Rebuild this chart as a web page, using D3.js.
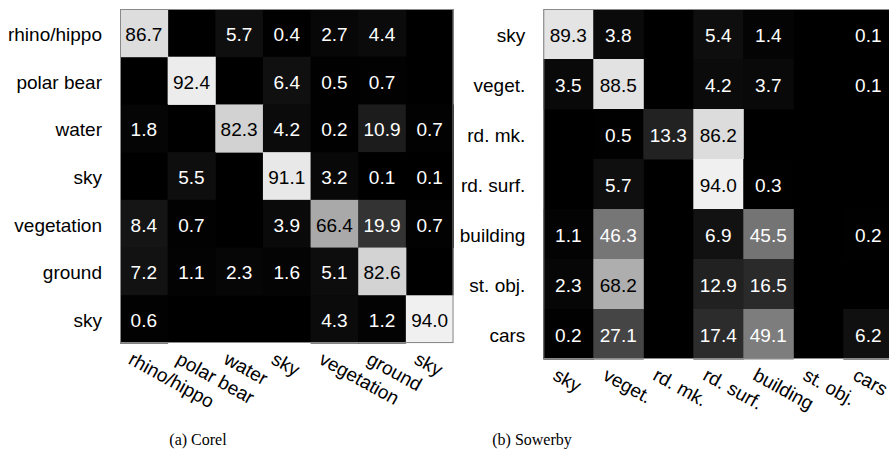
<!DOCTYPE html>
<html>
<head>
<meta charset="utf-8">
<script src="https://cdn.jsdelivr.net/npm/d3@7"></script>
<style>
  html, body { margin: 0; padding: 0; background: #fff; }
  svg { display: block; }
</style>
</head>
<body>
<svg id="chart" width="889" height="451"></svg>
<script>
// ---------- data ----------
const corelLabels = ["rhino/hippo", "polar bear", "water", "sky", "vegetation", "ground", "sky"];
const corelValues = [
  [86.7, null, 5.7, 0.4, 2.7, 4.4, null],
  [null, 92.4, null, 6.4, 0.5, 0.7, null],
  [1.8, null, 82.3, 4.2, 0.2, 10.9, 0.7],
  [null, 5.5, null, 91.1, 3.2, 0.1, 0.1],
  [8.4, 0.7, null, 3.9, 66.4, 19.9, 0.7],
  [7.2, 1.1, 2.3, 1.6, 5.1, 82.6, null],
  [0.6, null, null, null, 4.3, 1.2, 94.0]
];
const sowerbyLabels = ["sky", "veget.", "rd. mk.", "rd. surf.", "building", "st. obj.", "cars"];
const sowerbyValues = [
  [89.3, 3.8, null, 5.4, 1.4, null, 0.1],
  [3.5, 88.5, null, 4.2, 3.7, null, 0.1],
  [null, 0.5, 13.3, 86.2, null, null, null],
  [null, 5.7, null, 94.0, 0.3, null, null],
  [1.1, 46.3, null, 6.9, 45.5, null, 0.2],
  [2.3, 68.2, null, 12.9, 16.5, null, null],
  [0.2, 27.1, null, 17.4, 49.1, null, 6.2]
];
const captions = ["(a) Corel", "(b) Sowerby"];

// ---------- drawing ----------
const svg = d3.select("#chart");
const color = d3.scaleLinear().domain([0, 100]).range(["#000000", "#ffffff"]);
const FONT = "'Liberation Sans', Arial, Helvetica, sans-serif";

function drawMatrix(labels, values, x0, x1, y0, y1, caption, capX) {
  const idx = d3.range(labels.length);
  const x = d3.scaleBand().domain(idx).range([x0, x1]);
  const y = d3.scaleBand().domain(idx).range([y0, y1]);
  const g = svg.append("g");

  // background (empty cells are black)
  g.append("rect")
    .attr("x", x0).attr("y", y0)
    .attr("width", x1 - x0).attr("height", y1 - y0)
    .attr("fill", "#000");

  const cells = [];
  values.forEach((row, r) => row.forEach((v, c) => {
    if (v !== null) cells.push({ r, c, v });
  }));

  g.selectAll("rect.cell").data(cells).join("rect")
    .attr("class", "cell")
    .attr("x", d => x(d.c))
    .attr("y", d => y(d.r))
    .attr("width", x.bandwidth() + 0.5)
    .attr("height", y.bandwidth() + 0.5)
    .attr("fill", d => color(d.v));

  g.selectAll("text.val").data(cells).join("text")
    .attr("class", "val")
    .attr("x", d => x(d.c) + x.bandwidth() / 2)
    .attr("y", d => y(d.r) + y.bandwidth() / 2 + 8)
    .attr("text-anchor", "middle")
    .attr("font-family", FONT)
    .attr("font-size", 19)
    .attr("fill", d => d.v > 50 ? "#000" : "#fff")
    .text(d => d.v.toFixed(1));

  // frame
  g.append("rect")
    .attr("x", x0 + 0.5).attr("y", y0 + 0.5)
    .attr("width", x1 - x0 - 1).attr("height", y1 - y0 - 1)
    .attr("fill", "none")
    .attr("stroke", "#8a8a8a")
    .attr("stroke-width", 1);

  // row labels
  g.selectAll("text.row").data(idx).join("text")
    .attr("class", "row")
    .attr("x", x0 - 18)
    .attr("y", d => y(d) + y.bandwidth() / 2 + 8)
    .attr("text-anchor", "end")
    .attr("font-family", FONT)
    .attr("font-size", 19)
    .attr("fill", "#000")
    .text(d => labels[d]);

  // column labels (rotated)
  g.selectAll("text.col").data(idx).join("text")
    .attr("class", "col")
    .attr("transform", d => `translate(${x(d) + x.bandwidth() / 2 - 10},${y1 + 8}) rotate(29)`)
    .attr("dy", "0.72em")
    .attr("text-anchor", "start")
    .attr("font-family", FONT)
    .attr("font-size", 19)
    .attr("fill", "#000")
    .text(d => labels[d]);

  svg.append("text")
    .attr("x", capX).attr("y", 445)
    .attr("text-anchor", "middle")
    .attr("font-family", "'Liberation Serif', 'Times New Roman', serif")
    .attr("font-size", 16)
    .attr("fill", "#000")
    .text(caption);
}

drawMatrix(corelLabels, corelValues, 120, 453.5, 9, 343, captions[0], 198);
drawMatrix(sowerbyLabels, sowerbyValues, 543.3, 893.3, 9, 359, captions[1], 532);
</script>
</body>
</html>
